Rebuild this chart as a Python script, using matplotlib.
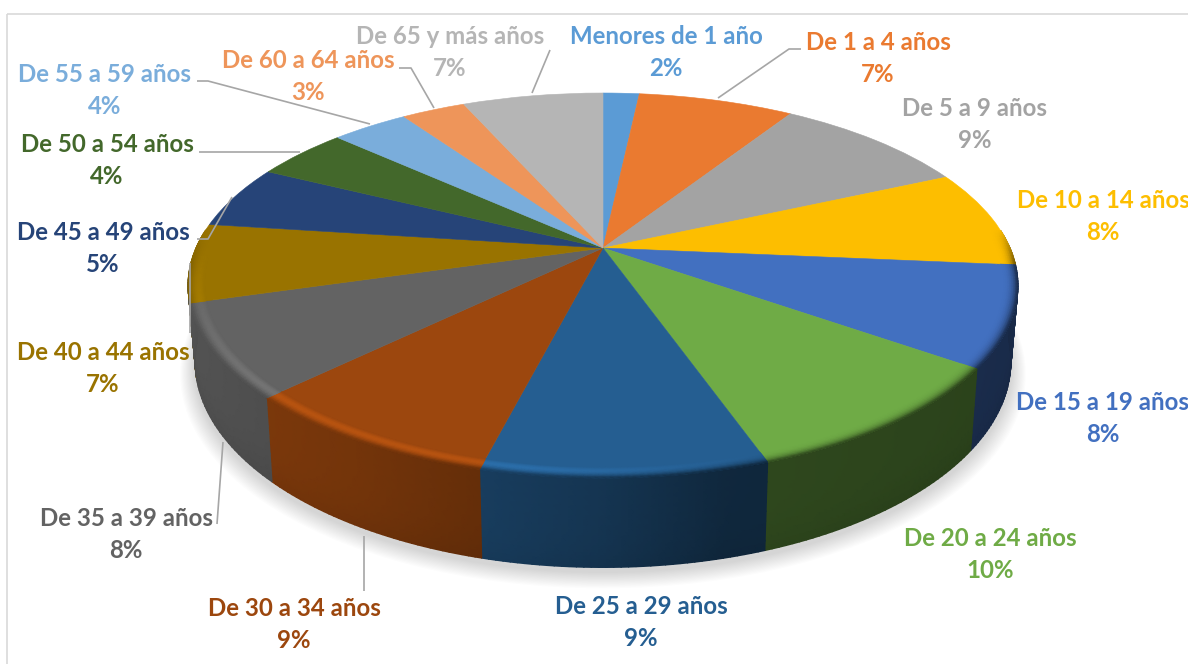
import numpy as np
import matplotlib
matplotlib.use('Agg')
import matplotlib.pyplot as plt
from matplotlib.colors import to_rgb
from matplotlib.patches import Rectangle, Wedge
from matplotlib.transforms import Transform

# Chart data
age_groups = ['Menores de 1 año', 'De 1 a 4 años', 'De 5 a 9 años', 'De 10 a 14 años',
              'De 15 a 19 años', 'De 20 a 24 años', 'De 25 a 29 años', 'De 30 a 34 años',
              'De 35 a 39 años', 'De 40 a 44 años', 'De 45 a 49 años', 'De 50 a 54 años',
              'De 55 a 59 años', 'De 60 a 64 años', 'De 65 y más años']
shares = [1.7, 7.3, 9.2, 8.2, 8.4, 9.8, 9.3, 8.7, 7.8, 6.6, 5.3, 4.4, 3.6, 3.0, 6.6]
colors = ['#5b9bd5', '#ea7a30', '#a3a3a3', '#fdbe00', '#4270c0', '#6fab46', '#255e91', '#9c470e',
          '#636363', '#997300', '#264478', '#43682b', '#7aaddb', '#ee955a', '#b5b5b5']

# Label centres in pixels: x, name line y, percent line y
label_pos = [(666, 36, 68), (878, 42, 74), (975, 108, 140), (1103, 200, 232), (1103, 402, 434),
             (990, 538, 570), (641, 606, 638), (294, 609, 641), (126, 518, 550), (103, 352, 384),
             (103, 232, 264), (107, 145, 177), (105, 75, 107), (308, 61, 93), (450, 37, 69)]

# Leader lines in pixels
leaders = [[(718, 98), (789, 49), (801, 49)],
           [(532, 93), (550, 50)],
           [(434, 108), (411, 68), (399, 68)],
           [(370, 124), (208, 81), (197, 81)],
           [(300, 152), (199, 152)],
           [(232, 197), (208, 239), (197, 239)],
           [(190, 263), (190, 333)],
           [(223, 442), (217, 524)],
           [(364, 536), (364, 591)]]

CX, CY = 603.0, 248.0
A, B, K = 185.2, 407.0, 0.1949


# Perspective view of the unit pie, z = 0 is the top face and z = 1 the bottom face
class PieView(Transform):
    input_dims = 2
    output_dims = 2

    def __init__(self, z=0.0, shift=0.0):
        super().__init__()
        self.z = z
        self.shift = shift

    def transform_non_affine(self, values):
        values = np.asarray(values, dtype=float)
        s = 1 + K * values[:, 1]
        x = CX + B * values[:, 0] / s
        y = CY - A * values[:, 1] / s
        x2 = CX + 0.983 * (x - CX)
        y2 = 1.07 * y + 56
        return np.column_stack([(1 - self.z) * x + self.z * x2,
                                (1 - self.z) * y + self.z * y2 + self.shift])


def wall_shade(x):
    return np.interp(x, [-1, -0.5, 0, 0.25, 1], [0.85, 0.74, 0.56, 0.42, 0.38])


plt.rcParams['font.family'] = ['Lato', 'DejaVu Sans']
fig = plt.figure(figsize=(11.88, 6.64), dpi=100)
ax = fig.add_axes([0, 0, 1, 1])

wedges, _ = ax.pie(shares, colors=colors, startangle=90, counterclock=False, radius=1)
ax.set_aspect('auto')
ax.set_xlim(0, 1188)
ax.set_ylim(664, 0)
ax.axis('off')

ax.add_patch(Rectangle((7, 14), 1400, 900, fill=False, ec='#d9d9d9', lw=1.2, zorder=0))

# soft shadow under the pie
for i in range(14):
    ax.add_patch(Wedge((0, 0), 1.0 + 0.0025 * (14 - i), 0, 360, fc='#808080', ec='none', alpha=0.022,
                       transform=PieView(1.0, 10 - 0.4 * i) + ax.transData, zorder=1))

# side wall and rounded rim, one small mesh per slice
# the 35-39 wall goes last and a bit further round, the 40-44 wall hardly shows at the left edge
wall_order = [0, 1, 2, 3, 4, 5, 6, 7, 9, 10, 11, 12, 13, 14, 8]
for idx in wall_order:
    w, col = wedges[idx], colors[idx]
    rgb = np.array(to_rgb(col))
    start = w.theta1 - 11 if idx == 8 else w.theta1
    th = np.radians(np.linspace(start, w.theta2, 40))
    th = th[np.sin(th) < 0.1]
    if len(th) < 2:
        continue
    cx, sy = np.cos(th), np.sin(th)

    view = PieView()
    xx, yy, cc = [], [], []
    for z in np.linspace(0, 1, 10):
        view.z = z
        pts = view.transform_non_affine(np.column_stack([cx, sy]))
        xx.append(pts[:, 0])
        yy.append(pts[:, 1])
        shade = wall_shade(cx)[:, None] * (1 - 0.06 * z ** 4)
        cc.append(rgb[None, :] * shade)
    ax.pcolormesh(np.array(xx), np.array(yy), np.array(cc), shading='gouraud', zorder=2)

for idx, (w, col) in enumerate(zip(wedges, colors)):
    rgb = np.array(to_rgb(col))
    th = np.radians(np.linspace(w.theta1, w.theta2, 40))
    th = th[np.sin(th) < 0.1]
    if len(th) < 2:
        continue
    cx, sy = np.cos(th), np.sin(th)

    view = PieView()
    front = np.clip((0.1 - sy) / 0.2, 0, 1)[:, None]
    glow = (np.clip(0.15 - 0.45 * cx, 0, 0.22) * np.clip(-sy * 1.5, 0, 1))[:, None]
    xx, yy, cc = [], [], []
    for u in np.linspace(0, 1, 9):
        pts = view.transform_non_affine(np.column_stack([cx, sy]) * (0.962 + 0.038 * u))
        xx.append(pts[:, 0])
        yy.append(pts[:, 1])
        wall = rgb[None, :] * wall_shade(cx)[:, None]
        lit = np.clip(rgb * (1 + glow * np.sin(np.pi * u)), 0, 1)
        c = lit + (wall - lit) * u ** 3
        cc.append(rgb + (c - rgb) * front)
    ax.pcolormesh(np.array(xx), np.array(yy), np.array(cc), shading='gouraud', zorder=3.5)

# top face
for w, col in zip(wedges, colors):
    w.set_transform(PieView() + ax.transData)
    w.set_edgecolor(col)
    w.set_linewidth(0.4)
    w.set_zorder(3)

for line in leaders:
    xs, ys = zip(*line)
    ax.plot(xs, ys, color='#a6a6a6', lw=1.2, zorder=5, solid_capstyle='butt')

total = sum(shares)
for name, val, col, (x, y1, y2) in zip(age_groups, shares, colors, label_pos):
    ax.text(x, y1, name, color=col, fontsize=17.3, fontweight='bold', ha='center', va='center', zorder=6)
    ax.text(x, y2, f'{100 * val / total:.0f}%', color=col, fontsize=17.3, fontweight='bold',
            ha='center', va='center', zorder=6)

fig.savefig('out.png', dpi=100)
